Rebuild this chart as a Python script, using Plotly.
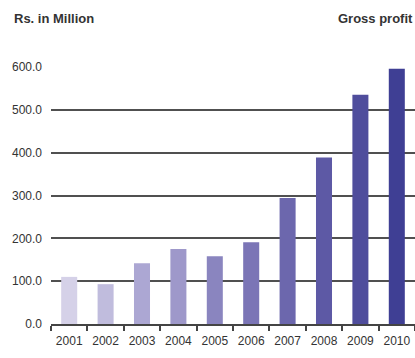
import plotly.graph_objects as go

# Gross profit by year, Rs. in Million
years = ["2001", "2002", "2003", "2004", "2005", "2006", "2007", "2008", "2009", "2010"]
gross_profit = [110, 93, 142, 175, 158, 191, 294, 389, 535, 596]
bar_colors = ["#d5d1e8", "#c0bcdd", "#aca7d3", "#9e98ca", "#8a85bf", "#7b75b6",
              "#6c67ad", "#5d59a5", "#4f4d9c", "#3f3f94"]
y_ticks = [0, 100, 200, 300, 400, 500, 600]

title_font = dict(family="Liberation Sans, Arial, sans-serif", size=13, color="#333333")

fig = go.Figure(
    go.Bar(
        x=years,
        y=gross_profit,
        marker=dict(color=bar_colors, line=dict(width=0)),
        width=0.44,
    )
)

fig.update_layout(
    width=415,
    height=358,
    margin=dict(l=51, r=0, t=67, b=34),
    paper_bgcolor="white",
    plot_bgcolor="white",
    showlegend=False,
    font=dict(family="Liberation Sans, Arial, sans-serif", size=12, color="#333333"),
    annotations=[
        dict(text="<b>Rs. in Million</b>", xref="paper", yref="paper",
             x=-0.107, y=1.19, xanchor="left", yanchor="middle", showarrow=False,
             font=title_font),
        dict(text="<b>Gross profit</b>", xref="paper", yref="paper",
             x=1.0, y=1.19, xanchor="right", yanchor="middle", showarrow=False,
             font=title_font),
    ],
)

fig.update_xaxes(
    type="category",
    showgrid=False,
    showline=True,
    linecolor="#444444",
    linewidth=2,
    ticks="outside",
    tickson="boundaries",
    ticklen=5,
    tickwidth=1.5,
    tickcolor="#444444",
    tickangle=0,
    ticklabelstandoff=5,
    tickfont=dict(size=12, color="#333333"),
)

fig.update_yaxes(
    range=[0, 600],
    tickvals=y_ticks,
    ticktext=[f"{v:.1f}" for v in y_ticks],
    showgrid=True,
    gridcolor="#505050",
    gridwidth=1.6,
    zeroline=False,
    showline=False,
    ticks="",
    ticklabelstandoff=8,
    tickfont=dict(size=12, color="#333333"),
)

fig.write_html("out.html")
